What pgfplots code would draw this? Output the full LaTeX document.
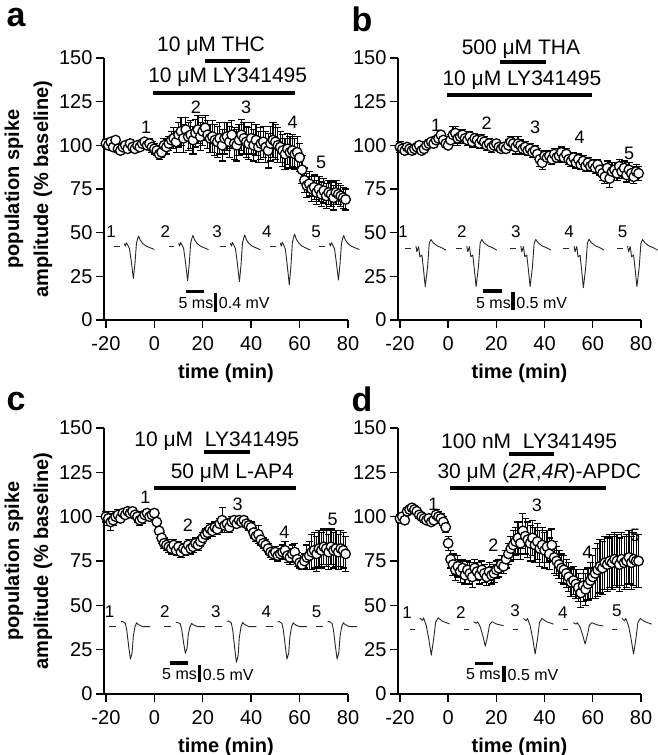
\documentclass[border=0pt]{standalone}
\usepackage{fontspec}
\setmainfont{Liberation Sans}
\usepackage{pgfplots}
\pgfplotsset{compat=1.18}
\usepackage{pgfplotstable}

% ---------------- data: time, value, s.e.m. ----------------
\pgfplotstableread{
t v e
-20 101 2
-19 100 2
-18 102 2
-17 99 2
-16 103 2
-15 98 2
-14 97 2
-13 99 2
-12 100 2
-11 98 2
-10 101 2
-9 99 2
-8 98 2
-7 100 2
-6 99 2
-5 101 2
-4 102 2
-3 100 2
-2 101 3
-1 99 3
0 98 3
1 97 3
2 95 3
3 96 3
4 100 4
5 99 4
6 101 4
7 103 5
8 104 6
9 102 6
10 106 7
11 108 8
12 104 8
13 109 7
14 105 8
15 106 8
16 103 8
17 107 8
18 109 8
19 105 8
20 108 8
21 110 7
22 106 8
23 104 8
24 105 9
25 103 9
26 102 9
27 104 9
28 100 9
29 104 9
30 105 8
31 102 9
32 106 8
33 101 9
34 100 9
35 103 9
36 106 9
37 104 9
38 102 9
39 101 9
40 104 9
41 100 9
42 103 9
43 99 9
44 101 9
45 102 9
46 99 9
47 97 10
48 101 10
49 103 10
50 102 10
51 100 10
52 99 9
53 97 9
54 95 9
55 98 9
56 96 9
57 97 9
58 95 9
59 96 9
60 93 8
61 86 8
62 80 7
63 77 7
64 78 7
65 75 7
66 76 7
67 73 7
68 75 7
69 72 7
70 74 7
71 71 7
72 73 7
73 72 7
74 70 7
75 73 7
76 72 6
77 71 6
78 70 6
79 69 6
}\dataA

\pgfplotstableread{
t v e
-20 99 3
-19 98 2
-18 97 2
-17 99 2
-16 98 2
-15 97 2
-14 98 2
-13 99 2
-12 100 2
-11 97 2
-10 98 2
-9 100 2
-8 101 2
-7 102 2
-6 101 2
-5 103 2
-4 104 2
-3 106 2
-2 103 2
-1 101 2
0 100 2
1 103 3
2 106 5
3 107 4
4 104 4
5 105 4
6 106 3
7 104 3
8 103 3
9 105 3
10 102 3
11 104 3
12 103 3
13 101 3
14 103 3
15 102 3
16 100 3
17 101 3
18 99 3
19 100 2
20 101 2
21 99 2
22 98 2
23 99 2
24 98 2
25 100 3
26 102 3
27 101 4
28 99 4
29 101 4
30 100 3
31 98 3
32 99 3
33 97 3
34 98 3
35 96 3
36 97 3
37 95 3
38 92 4
39 90 4
40 94 3
41 93 3
42 94 3
43 92 3
44 95 3
45 93 3
46 94 3
47 96 3
48 93 3
49 95 3
50 92 3
51 91 3
52 93 3
53 90 3
54 92 3
55 89 3
56 91 3
57 88 3
58 90 3
59 88 3
60 89 3
61 87 3
62 89 3
63 86 3
64 84 4
65 82 4
66 87 4
67 81 5
68 85 5
69 86 4
70 84 4
71 88 4
72 85 4
73 87 4
74 83 4
75 86 4
76 84 4
77 82 4
78 85 4
79 84 4
}\dataB

\pgfplotstableread{
t v e
-20 100 3
-19 99 4
-18 97 5
-17 98 3
-16 100 3
-15 101 3
-14 99 2
-13 102 2
-12 101 2
-11 103 2
-10 102 2
-9 103 2
-8 101 2
-7 100 3
-6 98 3
-5 99 3
-4 101 2
-3 102 2
-2 100 2
-1 101 2
0 102 2
1 97 2
2 92 2
3 88 3
4 85 3
5 84 3
6 83 3
7 82 3
8 84 3
9 81 3
10 83 3
11 80 3
12 82 3
13 81 3
14 84 3
15 82 3
16 83 3
17 85 3
18 84 3
19 86 3
20 88 3
21 90 3
22 91 3
23 93 3
24 92 3
25 94 3
26 93 3
27 96 3
28 98 7
29 95 4
30 96 3
31 94 3
32 97 3
33 98 2
34 96 2
35 98 2
36 97 2
37 98 2
38 96 2
39 95 3
40 94 3
41 91 3
42 89 3
43 90 5
44 87 3
45 85 3
46 84 3
47 82 3
48 80 3
49 79 3
50 80 3
51 78 3
52 79 3
53 80 4
54 81 5
55 78 4
56 77 4
57 79 5
58 80 5
59 76 4
60 74 3
61 73 3
62 75 4
63 77 7
64 78 8
65 80 10
66 81 10
67 79 10
68 82 10
69 81 10
70 83 10
71 82 10
72 80 10
73 83 10
74 81 10
75 82 10
76 80 10
77 82 10
78 81 10
79 79 10
}\dataC

\pgfplotstableread{
t v e
-20 99 2
-19 100 2
-18 98 2
-17 103 2
-16 104 2
-15 105 2
-14 104 2
-13 103 2
-12 101 2
-11 100 2
-10 99 2
-9 98 2
-8 99 2
-7 97 2
-6 98 2
-5 101 3
-4 100 3
-3 99 3
-2 97 3
-1 94 3
0 85 4
1 76 5
2 73 6
3 70 6
4 72 6
5 69 6
6 71 5
7 67 5
8 70 5
9 68 6
10 66 6
11 71 5
12 69 5
13 67 5
14 70 5
15 68 5
16 66 5
17 69 5
18 67 5
19 68 5
20 70 5
21 71 5
22 73 5
23 72 4
24 76 5
25 79 6
26 82 7
27 84 8
28 86 8
29 88 9
30 85 9
31 92 10
32 89 10
33 87 10
34 85 10
35 88 10
36 84 10
37 86 10
38 82 10
39 84 10
40 81 10
41 83 9
42 79 9
43 84 9
44 77 9
45 75 8
46 73 8
47 71 8
48 70 8
49 68 8
50 66 8
51 63 8
52 64 8
53 62 8
54 60 8
55 57 8
56 61 9
57 59 9
58 62 9
59 64 10
60 66 12
61 68 14
62 70 15
63 72 15
64 71 15
65 74 15
66 73 15
67 75 15
68 74 15
69 76 15
70 75 15
71 73 15
72 76 15
73 74 15
74 75 15
75 77 15
76 74 15
77 76 15
78 75 15
79 75 15
}\dataD

% ---------------- trace shapes (relative time, relative amplitude) ----------------
\pgfplotstableread{
x y
0 0
2.3 0
}\dashA
\pgfplotstableread{
x y
4.1 1.5
4.55 0
4.96 1.9
5.5 0.6
6.2 -1.3
6.9 -8
7.85 -18.5
8.5 -9.9
9.1 1.5
9.65 4.4
10.05 5.7
10.7 3.4
11.7 1.5
13.1 0
14.5 -0.8
16.5 -1.9
}\waveA

\pgfplotstableread{
x y
0 0
2.35 0
}\dashB
\pgfplotstableread{
x y
4.43 1.3
4.84 -1.9
5.53 1.0
6.09 -4.8
6.92 -3.8
7.6 -12.4
8.3 -21.9
9.27 -10.5
9.96 2.9
10.65 5.1
11.6 3.2
13.4 1.3
14.8 0.6
16.9 -1
}\waveB

\pgfplotstableread{
x y
0 0
2.75 0
}\dashC
\pgfplotstableread{
x y
4.8 2.8
5.5 2.8
6.6 1.9
7.2 -1.9
8.0 -11.2
8.7 -18.3
9.4 -14.9
9.9 -5.6
10.6 0
11.3 2.2
11.7 1.5
12.4 0.9
13.8 0
16.9 0
}\waveC

\pgfplotstableread{
x y
0 0
2.07 0
}\dashD
\pgfplotstableread{
x y
4.15 6.0
5.26 4.7
5.81 6.0
6.92 1.9
8.0 -5.6
9.0 -14.0
9.96 -5.6
10.8 3.7
11.8 6.0
13.8 4.1
16.6 2.8
}\waveD

% trace: dash table, wave table, t0, base, scale
\newcommand{\trace}[5]{%
  \addplot[line width=0.9pt, black!85] table[x expr=\thisrow{x}+#3, y expr=#4] {#1};
  \addplot[line width=0.9pt, black!85, line join=round] table[x expr=\thisrow{x}+#3, y expr=#4+#5*\thisrow{y}] {#2};
}

\pgfplotsset{
  panel/.style={
    scale only axis, width=244pt, height=262pt,
    xmin=-20.8, xmax=80, ymin=0, ymax=150,
    axis x line*=bottom, axis y line*=left,
    axis line style={-, line width=1.4pt},
    every tick/.style={line width=1.4pt, black},
    tick align=outside, major tick length=8pt,
    xtick={-20,0,...,80}, ytick={0,25,...,150},
    /pgf/number format/assume math mode=true,
    tick label style={font=\fontsize{20}{24}\selectfont},
    xticklabel style={yshift=-5pt},
    xlabel={time (min)},
    label style={font=\fontsize{20}{29}\selectfont\bfseries},
    xlabel style={yshift=-6pt},
    clip=false,
  },
  data/.style={
    only marks, mark=*, mark size=4.8pt,
    mark options={fill=white, draw=black, line width=1.3pt},
    error bars/.cd, y dir=both, y explicit,
    error bar style={line width=1.2pt, black},
    error mark options={rotate=90, mark size=3.6pt, line width=1.2pt, black},
  },
  drugbar/.style={line width=4pt, black},
  scalebar/.style={line width=3.5pt, black},
}
\tikzset{dlab/.style={font=\fontsize{18}{18}\selectfont}}

\newcommand{\ylab}{population spike\\amplitude (\% baseline)}

\begin{document}
\begin{tikzpicture}
\useasboundingbox (0,0) rectangle (657pt,755pt);

% panel letters
\node[font=\fontsize{34}{34}\selectfont\bfseries] at (16pt,737pt) {a};
\node[font=\fontsize{34}{34}\selectfont\bfseries] at (362pt,736pt) {b};
\node[font=\fontsize{34}{34}\selectfont\bfseries] at (16pt,353pt) {c};
\node[font=\fontsize{34}{34}\selectfont\bfseries] at (362pt,356pt) {d};

% ================= a =================
\begin{axis}[panel, at={(104pt,435pt)}, anchor=south west,
  ylabel={\ylab}, ylabel style={align=center}]
\addplot[data] table[x=t, y=v, y error=e] {\dataA};
\addplot[drugbar] coordinates {(21,148) (39.5,148)};
\addplot[drugbar] coordinates {(-0.4,130) (58.3,130)};
\node[font=\fontsize{21}{21}\selectfont] at (axis cs:23.4,157) {10 μM THC};
\node[font=\fontsize{21}{21}\selectfont] at (axis cs:30.3,139) {10 μM LY341495};
\node[dlab] at (axis cs:-3.4,110.5) {1};
\node[dlab] at (axis cs:17.2,121.9) {2};
\node[dlab] at (axis cs:37.9,121.9) {3};
\node[dlab] at (axis cs:57.1,113) {4};
\node[dlab] at (axis cs:68.9,90.5) {5};
\trace{\dashA}{\waveA}{-16.5}{42.3}{1.0}
\trace{\dashA}{\waveA}{5.9}{42.3}{1.07}
\trace{\dashA}{\waveA}{27.3}{42.3}{1.1}
\trace{\dashA}{\waveA}{47.9}{42.3}{1.2}
\trace{\dashA}{\waveA}{68.2}{42.3}{1.05}
\node[font=\fontsize{17}{17}\selectfont] at (axis cs:-17.9,50.5) {1};
\node[font=\fontsize{17}{17}\selectfont] at (axis cs:4.5,50.5) {2};
\node[font=\fontsize{17}{17}\selectfont] at (axis cs:25.9,50.5) {3};
\node[font=\fontsize{17}{17}\selectfont] at (axis cs:46.5,50.5) {4};
\node[font=\fontsize{17}{17}\selectfont] at (axis cs:66.8,50.5) {5};
\addplot[scalebar] coordinates {(13.1,16.2) (20.7,16.2)};
\addplot[scalebar] coordinates {(25.2,15.2) (25.2,4.7)};
\node[font=\fontsize{16}{16}\selectfont] at (axis cs:17.2,9.7) {5 ms};
\node[font=\fontsize{16}{16}\selectfont, anchor=west, inner sep=1pt] at (axis cs:26.2,9.7) {0.4 mV};
\end{axis}

% ================= b =================
\begin{axis}[panel, width=243pt, at={(398pt,435pt)}, anchor=south west]
\addplot[data] table[x=t, y=v, y error=e] {\dataB};
\addplot[drugbar] coordinates {(21.6,147.6) (40.7,147.6)};
\addplot[drugbar] coordinates {(-0.5,128.6) (59.6,128.6)};
\node[font=\fontsize{21}{21}\selectfont] at (axis cs:30.2,155) {500 μM THA};
\node[font=\fontsize{21}{21}\selectfont] at (axis cs:30.6,137.5) {10 μM LY341495};
\node[dlab] at (axis cs:-5,111.4) {1};
\node[dlab] at (axis cs:16,112.4) {2};
\node[dlab] at (axis cs:36.1,110.5) {3};
\node[dlab] at (axis cs:54.5,104.7) {4};
\node[dlab] at (axis cs:75.1,95.2) {5};
\trace{\dashB}{\waveB}{-17.8}{41}{1.0}
\trace{\dashB}{\waveB}{3.3}{41}{1.0}
\trace{\dashB}{\waveB}{25.7}{41}{1.0}
\trace{\dashB}{\waveB}{47.8}{41}{1.03}
\trace{\dashB}{\waveB}{70}{41}{1.0}
\node[font=\fontsize{17}{17}\selectfont] at (axis cs:-18.7,50.5) {1};
\node[font=\fontsize{17}{17}\selectfont] at (axis cs:5.7,50.5) {2};
\node[font=\fontsize{17}{17}\selectfont] at (axis cs:28.1,50.5) {3};
\node[font=\fontsize{17}{17}\selectfont] at (axis cs:50.2,50.5) {4};
\node[font=\fontsize{17}{17}\selectfont] at (axis cs:72.4,50.5) {5};
\addplot[scalebar] coordinates {(14.6,16.6) (22.3,16.6)};
\addplot[scalebar] coordinates {(26.8,16.2) (26.8,5.7)};
\node[font=\fontsize{16}{16}\selectfont] at (axis cs:18.8,9.9) {5 ms};
\node[font=\fontsize{16}{16}\selectfont, anchor=west, inner sep=1pt] at (axis cs:27.8,9.9) {0.5 mV};
\end{axis}

% ================= c =================
\begin{axis}[panel, height=266pt, at={(104pt,61pt)}, anchor=south west,
  ylabel={\ylab}, ylabel style={align=center}]
\addplot[data] table[x=t, y=v, y error=e] {\dataC};
\addplot[drugbar] coordinates {(20.7,136.6) (39.5,136.6)};
\addplot[drugbar] coordinates {(0,116.4) (58.5,116.4)};
\node[font=\fontsize{21}{21}\selectfont] at (axis cs:25.8,142.6) {10 μM\ \ LY341495};
\node[font=\fontsize{21}{21}\selectfont] at (axis cs:32.2,124.8) {50 μM L-AP4};
\node[dlab] at (axis cs:-3.7,110.8) {1};
\node[dlab] at (axis cs:13.8,95) {2};
\node[dlab] at (axis cs:34.4,106.7) {3};
\node[dlab] at (axis cs:53.7,91.2) {4};
\node[dlab] at (axis cs:73.7,98.7) {5};
\trace{\dashC}{\waveC}{-18.6}{38}{1.0}
\trace{\dashC}{\waveC}{4.1}{38}{0.82}
\trace{\dashC}{\waveC}{25.2}{38}{1.1}
\trace{\dashC}{\waveC}{46.1}{38}{1.0}
\trace{\dashC}{\waveC}{66.8}{38}{1.0}
\node[font=\fontsize{17}{17}\selectfont] at (axis cs:-18.5,46.4) {1};
\node[font=\fontsize{17}{17}\selectfont] at (axis cs:4.3,46.4) {2};
\node[font=\fontsize{17}{17}\selectfont] at (axis cs:25.4,46.4) {3};
\node[font=\fontsize{17}{17}\selectfont] at (axis cs:46.3,46.4) {4};
\node[font=\fontsize{17}{17}\selectfont] at (axis cs:67,46.4) {5};
\addplot[scalebar] coordinates {(6.6,17.5) (14.1,17.5)};
\addplot[scalebar] coordinates {(18.6,16.6) (18.6,6.7)};
\node[font=\fontsize{16}{16}\selectfont] at (axis cs:10.4,11) {5 ms};
\node[font=\fontsize{16}{16}\selectfont, anchor=west, inner sep=1pt] at (axis cs:19.6,11) {0.5 mV};
\end{axis}

% ================= d =================
\begin{axis}[panel, width=243pt, height=266pt, at={(398pt,61pt)}, anchor=south west]
\addplot[data] table[x=t, y=v, y error=e] {\dataD};
\addplot[drugbar] coordinates {(25.3,135.1) (44,135.1)};
\addplot[drugbar] coordinates {(0.8,116.4) (65.6,116.4)};
\node[font=\fontsize{21}{21}\selectfont] at (axis cs:33.6,142.6) {100 nM\ \ LY341495};
\node[font=\fontsize{21}{21}\selectfont] at (axis cs:37.8,124.8) {30 μM (\textit{2R},\textit{4R})-APDC};
\node[dlab] at (axis cs:-6.1,106.7) {1};
\node[dlab] at (axis cs:18.8,83.8) {2};
\node[dlab] at (axis cs:36.8,106.2) {3};
\node[dlab] at (axis cs:57.8,80) {4};
\node[dlab] at (axis cs:77.6,89.4) {5};
\trace{\dashD}{\waveD}{-16}{36.6}{1.05}
\trace{\dashD}{\waveD}{6.4}{36.6}{0.69}
\trace{\dashD}{\waveD}{27.1}{36.6}{1.0}
\trace{\dashD}{\waveD}{47.8}{36.6}{0.6}
\trace{\dashD}{\waveD}{67.9}{36.6}{1.0}
\node[font=\fontsize{17}{17}\selectfont] at (axis cs:-17,46) {1};
\node[font=\fontsize{17}{17}\selectfont] at (axis cs:5.3,46) {2};
\node[font=\fontsize{17}{17}\selectfont] at (axis cs:27.8,47) {3};
\node[font=\fontsize{17}{17}\selectfont] at (axis cs:47.6,46) {4};
\node[font=\fontsize{17}{17}\selectfont] at (axis cs:70,47) {5};
\addplot[scalebar] coordinates {(11.2,17.1) (18.5,17.1)};
\addplot[scalebar] coordinates {(23.2,16) (23.2,6.7)};
\node[font=\fontsize{16}{16}\selectfont] at (axis cs:14.6,11) {5 ms};
\node[font=\fontsize{16}{16}\selectfont, anchor=west, inner sep=1pt] at (axis cs:24.2,11) {0.5 mV};
\end{axis}
\end{tikzpicture}
\end{document}
